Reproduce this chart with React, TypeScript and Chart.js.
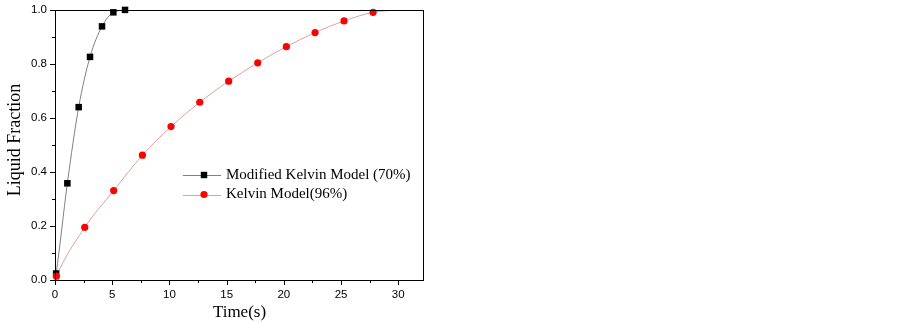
import { useEffect, useRef } from "react";
import { Chart, registerables } from "chart.js";

Chart.register(...registerables);

// Data
const modifiedX = [0.1, 1.08, 2.07, 3.06, 4.11, 5.1, 6.12];
const modifiedY = [0.024, 0.358, 0.64, 0.826, 0.939, 0.991, 1.0];
const kelvinX = [0.12, 2.6, 5.13, 7.64, 10.14, 12.65, 15.18, 17.72, 20.22, 22.73, 25.26, 27.8];
const kelvinY = [0.014, 0.195, 0.331, 0.462, 0.568, 0.658, 0.736, 0.804, 0.864, 0.916, 0.959, 0.991];
// fitted-curve end points (no markers)
const modifiedCurveStart = { x: 0, y: 0 };
const kelvinCurveStart = { x: 0, y: 0 };
const kelvinCurveEnd = { x: 30, y: 1.0 };

const legendLabels = ["Modified Kelvin Model (70%)", "Kelvin Model(96%)"];
const xTitle = "Time(s)";
const yTitle = "Liquid Fraction";
const xMin = 0;
const xMax = 32.25;
const yMin = 0;
const yMax = 1;

const BLACK_LINE = "rgb(128,128,128)";
const RED_LINE = "rgb(222,160,160)";
const SERIF = '"Liberation Serif", "Times New Roman", serif';
const SANS = '"Liberation Sans", Arial, sans-serif';

const toPts = (xs: number[], ys: number[]) => xs.map((x, i) => ({ x, y: ys[i] }));

const framePlugin = {
  id: "frameAndTicks",
  afterDraw(chart: any) {
    const { ctx, chartArea } = chart;
    const { left, right, top, bottom } = chartArea;
    const xs = chart.scales.x;
    const ys = chart.scales.y;
    ctx.save();
    ctx.strokeStyle = "#000";
    ctx.lineWidth = 1;
    ctx.strokeRect(Math.round(left) + 0.5, Math.round(top) + 0.5, Math.round(right - left) - 1, Math.round(bottom - top));
    // x ticks
    ctx.beginPath();
    for (let i = 0; i <= 12; i++) {
      const v = i * 2.5;
      const px = Math.round(xs.getPixelForValue(v)) + 0.5;
      const len = i % 2 === 0 ? 5 : 3;
      ctx.moveTo(px, Math.round(bottom));
      ctx.lineTo(px, Math.round(bottom) + len);
    }
    for (let i = 0; i <= 10; i++) {
      const v = i * 0.1;
      const py = Math.round(ys.getPixelForValue(v)) + 0.5;
      const len = i % 2 === 0 ? 5 : 3;
      ctx.moveTo(Math.round(left), py);
      ctx.lineTo(Math.round(left) - len, py);
    }
    ctx.stroke();

    // y axis title
    ctx.save();
    ctx.translate(15.5, 140);
    ctx.rotate(-Math.PI / 2);
    ctx.fillStyle = "#000";
    ctx.font = `18px ${SERIF}`;
    ctx.textAlign = "center";
    ctx.textBaseline = "middle";
    ctx.fillText(yTitle, 0, 0);
    ctx.restore();

    // legend
    const rows = [
      { y: 175, line: BLACK_LINE, kind: "rect", text: legendLabels[0] },
      { y: 194.5, line: RED_LINE, kind: "circle", text: legendLabels[1] },
    ];
    for (const r of rows) {
      ctx.beginPath();
      ctx.strokeStyle = r.line;
      ctx.lineWidth = 1;
      ctx.moveTo(183, Math.round(r.y) + 0.5);
      ctx.lineTo(221, Math.round(r.y) + 0.5);
      ctx.stroke();
      if (r.kind === "rect") {
        ctx.fillStyle = "#000";
        ctx.fillRect(204 - 3.2, r.y - 3.2, 6.4, 6.4);
      } else {
        ctx.fillStyle = "#ff0000";
        ctx.beginPath();
        ctx.arc(204, r.y, 3.6, 0, Math.PI * 2);
        ctx.fill();
      }
      ctx.fillStyle = "#000";
      ctx.font = `15px ${SERIF}`;
      ctx.textBaseline = "middle";
      ctx.textAlign = "left";
      ctx.fillText(r.text, 226, r.y);
    }
    ctx.restore();
  },
};

export default function App() {
  const ref = useRef<HTMLCanvasElement | null>(null);
  useEffect(() => {
    if (!ref.current) return;
    const chart = new Chart(ref.current, {
      type: "scatter",
      data: {
        datasets: [
          {
            label: "kelvinCurve",
            data: [kelvinCurveStart, ...toPts(kelvinX, kelvinY), kelvinCurveEnd],
            showLine: true,
            borderColor: RED_LINE,
            borderWidth: 1,
            pointRadius: 0,
            cubicInterpolationMode: "monotone",
            order: 3,
          } as any,
          {
            label: "modifiedCurve",
            data: [modifiedCurveStart, ...toPts(modifiedX, modifiedY)],
            showLine: true,
            borderColor: BLACK_LINE,
            borderWidth: 1,
            pointRadius: 0,
            cubicInterpolationMode: "monotone",
            order: 4,
          } as any,
          {
            label: legendLabels[1],
            data: toPts(kelvinX, kelvinY),
            showLine: false,
            pointStyle: "circle",
            pointRadius: 3.6,
            pointBorderWidth: 0,
            pointBackgroundColor: "#ff0000",
            pointBorderColor: "#ff0000",
            clip: false,
            order: 0,
          } as any,
          {
            label: legendLabels[0],
            data: toPts(modifiedX, modifiedY),
            showLine: false,
            pointStyle: "rect",
            pointRadius: 4.6,
            pointBorderWidth: 0,
            pointBackgroundColor: "#000",
            pointBorderColor: "#000",
            clip: false,
            order: 1,
          } as any,
        ],
      },
      options: {
        responsive: false,
        animation: false,
        events: [],
        layout: { padding: { left: 0, right: 479, top: 9, bottom: 0 } },
        plugins: { legend: { display: false }, tooltip: { enabled: false } },
        scales: {
          x: {
            type: "linear",
            min: xMin,
            max: xMax,
            afterFit: (s: any) => {
              s.height = 43;
            },
            grid: { drawOnChartArea: false, tickLength: 5, tickColor: "transparent" },
            border: { display: false },
            ticks: {
              stepSize: 2.5,
              includeBounds: false,
              autoSkip: false,
              maxRotation: 0,
              padding: 3,
              color: "#000",
              font: { family: SANS, size: 11.5 },
              callback: (v: any) => (Math.round(v * 2) % 10 === 0 ? String(v) : ""),
            },
            title: {
              display: true,
              text: xTitle,
              color: "#000",
              font: { family: SERIF, size: 17 },
              padding: 0,
            },
          },
          y: {
            type: "linear",
            min: yMin,
            max: yMax,
            afterFit: (s: any) => {
              s.width = 55;
            },
            grid: { drawOnChartArea: false, tickLength: 5, tickColor: "transparent" },
            border: { display: false },
            ticks: {
              stepSize: 0.1,
              autoSkip: false,
              padding: 3,
              color: "#000",
              font: { family: SANS, size: 11.5 },
              callback: (v: any) => (Math.round(v * 10) % 2 === 0 ? Number(v).toFixed(1) : ""),
            },
            title: { display: false, text: yTitle },
          },
        },
      },
      plugins: [framePlugin],
    } as any);
    return () => chart.destroy();
  }, []);
  return (
    <div style={{ position: "fixed", left: 0, top: 0, width: 903, height: 323, background: "#fff" }}>
      <canvas ref={ref} width={903} height={323} style={{ width: 903, height: 323, display: "block" }} />
    </div>
  );
}
